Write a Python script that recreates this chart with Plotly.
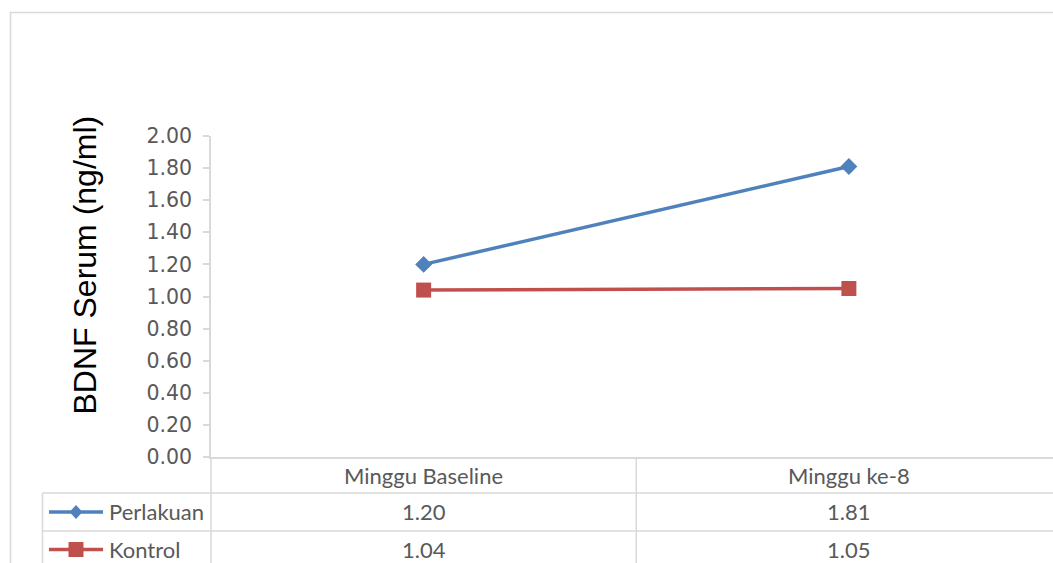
import plotly.graph_objects as go

# ---- data ----
categories = ["Minggu Baseline", "Minggu ke-8"]
series_names = ["Perlakuan", "Kontrol"]
perlakuan = [1.20, 1.81]
kontrol = [1.04, 1.05]
y_ticks = [0.0, 0.2, 0.4, 0.6, 0.8, 1.0, 1.2, 1.4, 1.6, 1.8, 2.0]
y_title = "BDNF Serum (ng/ml)"

# ---- layout geometry (pixels) ----
W, H = 1053, 563
L, R, T, B = 211, 0, 136, 106
PX0, PX1 = L, W - R
PY0, PY1 = H - B, T  # bottom, top

def xp(px):
    return (px - PX0) / (PX1 - PX0)

def yp(py):
    return (PY0 - py) / (PY0 - PY1)

BLUE = "#4F81BD"
RED = "#C0504D"
GRID = "#D9D9D9"
TXT = "#595959"
TABLE_FONT = dict(family="Lato", size=22, color=TXT)

fig = go.Figure()
fig.add_trace(go.Scatter(
    x=categories, y=perlakuan, mode="lines+markers", name=series_names[0],
    line=dict(color=BLUE, width=3.5),
    marker=dict(symbol="diamond", size=13, color=BLUE),
))
fig.add_trace(go.Scatter(
    x=categories, y=kontrol, mode="lines+markers", name=series_names[1],
    line=dict(color=RED, width=3.5),
    marker=dict(symbol="square", size=15, color=RED),
))

shapes = []
# outer chart border
shapes.append(dict(type="rect", xref="paper", yref="paper",
                   x0=xp(10.5), x1=xp(1070), y0=yp(12.5), y1=yp(600),
                   line=dict(color=GRID, width=1.5), layer="below"))
# vertical line continuing y axis into table
shapes.append(dict(type="line", xref="paper", yref="paper",
                   x0=0, x1=0, y0=0, y1=yp(600), line=dict(color=GRID, width=1.5)))
# table horizontal lines
for yy in (493, 531):
    shapes.append(dict(type="line", xref="paper", yref="paper",
                       x0=xp(42.5), x1=xp(1070), y0=yp(yy), y1=yp(yy),
                       line=dict(color=GRID, width=1.5)))
# table left border
shapes.append(dict(type="line", xref="paper", yref="paper",
                   x0=xp(42.5), x1=xp(42.5), y0=yp(493), y1=yp(600),
                   line=dict(color=GRID, width=1.5)))
# category divider
shapes.append(dict(type="line", xref="x", yref="paper",
                   x0=0.5, x1=0.5, y0=0, y1=yp(600),
                   line=dict(color=GRID, width=1.5)))

# legend keys in table
key_rows = [512, 549.5]
colors = [BLUE, RED]
for yy, c in zip(key_rows, colors):
    shapes.append(dict(type="line", xref="paper", yref="paper",
                       x0=xp(49), x1=xp(103), y0=yp(yy), y1=yp(yy),
                       line=dict(color=c, width=3.5)))
# diamond
cx, cy = 76, key_rows[0]
d = [(cx - 6.5, cy), (cx, cy - 7), (cx + 6.5, cy), (cx, cy + 7)]
path = "M " + " L ".join(f"{xp(a)},{yp(b)}" for a, b in d) + " Z"
shapes.append(dict(type="path", xref="paper", yref="paper", path=path,
                   fillcolor=BLUE, line=dict(color=BLUE, width=0)))
# square
cx, cy = 76, key_rows[1]
shapes.append(dict(type="rect", xref="paper", yref="paper",
                   x0=xp(cx - 7.5), x1=xp(cx + 7.5), y0=yp(cy + 7.5), y1=yp(cy - 7.5),
                   fillcolor=RED, line=dict(color=RED, width=0)))

annotations = []
# header row
for cat in categories:
    annotations.append(dict(x=cat, xref="x", y=yp(475), yref="paper", text=cat,
                            showarrow=False, font=TABLE_FONT,
                            xanchor="center", yanchor="middle"))
# value rows
for vals, yy in zip([perlakuan, kontrol], key_rows):
    for cat, v in zip(categories, vals):
        annotations.append(dict(x=cat, xref="x", y=yp(yy), yref="paper",
                                text=f"{v:.2f}", showarrow=False, font=TABLE_FONT,
                                xanchor="center", yanchor="middle"))
# series names
for name, yy in zip(series_names, key_rows):
    annotations.append(dict(x=xp(107), xref="paper", y=yp(yy), yref="paper",
                            text=name, showarrow=False, font=TABLE_FONT,
                            xanchor="left", yanchor="middle"))
# y axis title
annotations.append(dict(x=xp(84), xref="paper", y=yp(265.5), yref="paper",
                        text=y_title, textangle=-90, showarrow=False,
                        font=dict(family="Liberation Sans", size=32, color="#000000"),
                        xanchor="center", yanchor="middle"))

fig.update_layout(
    width=W, height=H,
    margin=dict(l=L, r=R, t=T, b=B, pad=0),
    paper_bgcolor="white", plot_bgcolor="white",
    showlegend=False,
    shapes=shapes, annotations=annotations,
    xaxis=dict(type="category", range=[-0.5, 1.48], showticklabels=False,
               ticks="", showgrid=False, zeroline=False, showline=True,
               linecolor=GRID, linewidth=1.5, automargin=False, fixedrange=True),
    yaxis=dict(range=[0, 2.0], tickvals=y_ticks,
               ticktext=[f"{v:.2f}" for v in y_ticks],
               ticks="outside", ticklen=6, tickcolor=GRID, tickwidth=1.5,
               ticklabelstandoff=7,
               tickfont=dict(family="DejaVu Sans", size=20.5, color=TXT),
               showgrid=False, zeroline=False, showline=True,
               linecolor=GRID, linewidth=1.5, automargin=False, fixedrange=True),
)

fig.write_html("out.html")
